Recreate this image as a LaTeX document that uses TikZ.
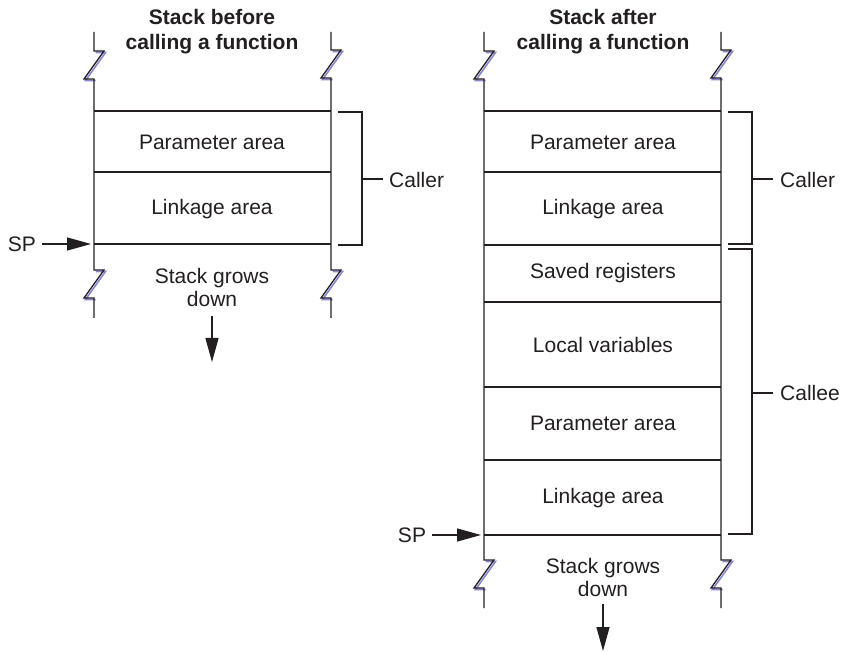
\documentclass[tikz,border=0pt]{standalone}
\usepackage{fontspec}
\setmainfont{Liberation Sans}
\usetikzlibrary{arrows.meta}
\definecolor{ink}{HTML}{231F20}
\definecolor{tear}{RGB}{135,135,205}
% one torn-edge jog: right, diagonal back down-left, then right again
\newcommand\zz{-- ++(10,0) -- ++(-20,28) -- ++(10,0)}
\tikzset{
  stackline/.style={draw=ink, line width=1.3pt, line join=miter},
  cellsep/.style={draw=ink, line width=1.2pt},
  bracket/.style={draw=ink, line width=2.2pt},
  tearshade/.style={draw=tear, line width=1.6pt},
  txt/.style={text=ink, inner sep=0pt, font=\fontsize{21}{23}\selectfont, align=center},
  title/.style={txt, font=\fontsize{21}{25}\selectfont\bfseries},
  ptr/.style={draw=ink, line width=1.3pt, -{Triangle[length=24pt,width=13pt]}},
}
\begin{document}
\begin{tikzpicture}[x=1pt,y=-1pt]
\useasboundingbox (0,0) rectangle (841,652);

% ---------- torn-edge shading ----------
\foreach \x/\y in {94/51, 331/50, 94/270, 331/270, 484/51, 721/50, 484/560, 721/560}
  \draw[tearshade] ([shift={(1.5,1.5)}]\x,\y) \zz;

% ---------- stack before the call ----------
\node[title] (titleL) at (212,32) {Stack before\\calling a function};
\draw[stackline] (94,32) -- (94,51) \zz -- (94,270) \zz -- (94,318);
\draw[stackline] (331,32) -- (331,50) \zz -- (331,270) \zz -- (331,318);
\foreach \y in {111,172,244} \draw[cellsep] (94,\y) -- (331,\y);
\node[txt] (paramL) at (212,142) {Parameter area};
\node[txt] (linkL)  at (212,209) {Linkage area};

\draw[bracket] (338,112) -- (362,112) -- (362,245) -- (338,245);
\coordinate (callerLtick) at (362,179);
\node[txt, anchor=west] (callerL) at (389,180) {Caller};
\draw[cellsep] (callerLtick) -- (383,179);

\node[txt] (spL) at (22,244) {SP};
\coordinate (spLtip) at (91,244);
\draw[ptr] (42,244) coordinate (spLtail) -- (spLtip);

\node[txt] (growL) at (212,287) {Stack grows\\down};
\coordinate (dnLtop) at (212,316);
\coordinate (dnLtip) at (212,362);
\draw[ptr] (dnLtop) -- (dnLtip);

% ---------- stack after the call ----------
\node[title] (titleR) at (603,32) {Stack after\\calling a function};
\draw[stackline] (484,32) -- (484,51) \zz -- (484,560) \zz -- (484,608);
\draw[stackline] (721,32) -- (721,50) \zz -- (721,560) \zz -- (721,608);
\foreach \y in {111,172,245,302,387,460,535} \draw[cellsep] (484,\y) -- (721,\y);
\node[txt] (paramR1) at (603,142) {Parameter area};
\node[txt] (linkR1)  at (603,209) {Linkage area};
\node[txt] (saved)   at (603,273) {Saved registers};
\node[txt] (locals)  at (603,345) {Local variables};
\node[txt] (paramR2) at (603,423) {Parameter area};
\node[txt] (linkR2)  at (603,498) {Linkage area};

\draw[bracket] (728,112) -- (752,112) -- (752,244) -- (728,244);
\coordinate (callerRtick) at (752,179);
\node[txt, anchor=west] (callerR) at (780,180) {Caller};
\draw[cellsep] (callerRtick) -- (773,179);

\draw[bracket] (728,249) -- (752,249) -- (752,534) -- (728,534);
\coordinate (calleeTick) at (752,393);
\node[txt, anchor=west] (callee) at (780,393) {Callee};
\draw[cellsep] (calleeTick) -- (773,393);

\node[txt] (spR) at (412,535) {SP};
\coordinate (spRtip) at (481,535);
\draw[ptr] (432,535) coordinate (spRtail) -- (spRtip);

\node[txt] (growR) at (603,577) {Stack grows\\down};
\coordinate (dnRtop) at (603,604);
\coordinate (dnRtip) at (603,651);
\draw[ptr] (dnRtop) -- (dnRtip);
\end{tikzpicture}
\end{document}
